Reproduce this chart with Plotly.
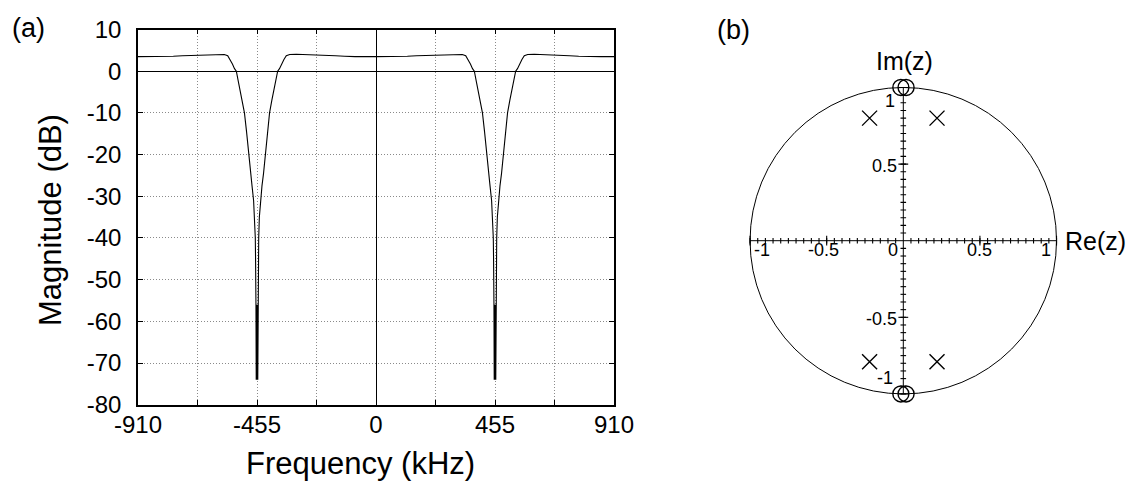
import plotly.graph_objects as go

# ---------------- data: panel (a) magnitude response ----------------
freq_khz = [
    -910, -860, -810, -775, -740, -700, -665, -640, -605, -580, -567, -558, -549, -541,
    -534, -525, -517, -512, -503, -495, -487, -480, -474, -468, -464, -461.5, -460.5,
    -459.5, -459, -458, -456.5, -455, -453.5, -452, -451, -450.5, -449.5, -448.5, -446,
    -442, -436, -430, -423, -415, -407, -398, -393, -385, -376, -369, -361, -352, -343,
    -330, -305, -265, -230, -195, -155, -120, -80, 0,
    80, 120, 155, 195, 230, 265, 305, 330, 343, 352, 361, 369, 376, 385, 393, 398, 407,
    415, 423, 430, 436, 442, 446, 448.5, 449.5, 450.5, 451, 452, 453.5, 455, 456.5,
    458, 459, 459.5, 460.5, 461.5, 464, 468, 474, 480, 487, 495, 503, 512, 517, 525, 534,
    541, 549, 558, 567, 580, 605, 640, 665, 700, 740, 775, 810, 860, 910,
]
mag_db = [
    3.5, 3.5, 3.5, 3.6, 3.7, 3.8, 3.9, 4.0, 4.05, 4.0, 3.7, 2.8, 1.7, 0.6,
    0.0, -2.9, -5.3, -6.9, -10.0, -14.5, -20.0, -24.5, -27.5, -31.0, -35.0, -40.0, -45.0,
    -50.0, -56.0, -74.0, -56.0, -74.0, -56.0, -74.0, -56.0, -50.0, -45.0, -40.0, -35.0,
    -31.0, -27.5, -24.5, -20.0, -14.5, -10.0, -6.9, -5.3, -2.9, 0.0, 0.6, 1.7, 2.8, 3.7,
    4.0, 4.05, 4.0, 3.9, 3.8, 3.7, 3.6, 3.5, 3.5,
    3.5, 3.6, 3.7, 3.8, 3.9, 4.0, 4.05, 4.0, 3.7, 2.8, 1.7, 0.6, 0.0, -2.9, -5.3, -6.9, -10.0,
    -14.5, -20.0, -24.5, -27.5, -31.0, -35.0, -40.0, -45.0, -50.0, -56.0, -74.0, -56.0, -74.0, -56.0,
    -74.0, -56.0, -50.0, -45.0, -40.0, -35.0, -31.0, -27.5, -24.5, -20.0, -14.5, -10.0, -6.9, -5.3, -2.9, 0.0,
    0.6, 1.7, 2.8, 3.7, 4.0, 4.05, 4.0, 3.9, 3.8, 3.7, 3.6, 3.5, 3.5, 3.5,
]
x_tick_vals = [-910, -682.5, -455, -227.5, 0, 227.5, 455, 682.5, 910]
x_tick_text = ["-910", "", "-455", "", "0", "", "455", "", "910"]
y_tick_vals = [10, 0, -10, -20, -30, -40, -50, -60, -70, -80]
y_tick_text = ["10", "0", "-10", "-20", "-30", "-40", "-50", "-60", "-70", "-80"]

# ---------------- data: panel (b) pole-zero plot ----------------
zero_re = [-0.016, 0.018, -0.016, 0.018]
zero_im = [1.0, 1.0, -1.0, -1.0]
pole_re = [-0.22, 0.22, -0.22, 0.22]
pole_im = [0.80, 0.80, -0.79, -0.79]
re_labels = ["-1", "-0.5", "0", "0.5", "1"]
im_labels = ["1", "0.5", "-0.5", "-1"]

FONT = "Liberation Sans, Arial, sans-serif"
W, H = 1130, 485
fig = go.Figure()

# panel (a)
fig.add_trace(go.Scatter(x=freq_khz, y=mag_db, mode="lines",
                         line=dict(color="black", width=1.1),
                         xaxis="x", yaxis="y", showlegend=False, hoverinfo="skip"))

# panel (b): axes lines
fig.add_trace(go.Scatter(x=[-1, 1], y=[0, 0], mode="lines", line=dict(color="black", width=1),
                         xaxis="x2", yaxis="y2", showlegend=False, hoverinfo="skip"))
fig.add_trace(go.Scatter(x=[0, 0], y=[-1, 1], mode="lines", line=dict(color="black", width=1),
                         xaxis="x2", yaxis="y2", showlegend=False, hoverinfo="skip"))
# minor ticks every 0.05
minor = [round(-1 + 0.05 * i, 2) for i in range(41) if i != 20]
fig.add_trace(go.Scatter(x=minor, y=[0] * len(minor), mode="markers",
                         marker=dict(symbol="line-ns", size=4, line=dict(color="black", width=1.1)),
                         xaxis="x2", yaxis="y2", showlegend=False, hoverinfo="skip"))
fig.add_trace(go.Scatter(x=[0] * len(minor), y=minor, mode="markers",
                         marker=dict(symbol="line-ew", size=4, line=dict(color="black", width=1.1)),
                         xaxis="x2", yaxis="y2", showlegend=False, hoverinfo="skip"))
major = [-1, -0.5, 0.5, 1]
fig.add_trace(go.Scatter(x=major, y=[0] * 4, mode="markers",
                         marker=dict(symbol="line-ns", size=7, line=dict(color="black", width=1.1)),
                         xaxis="x2", yaxis="y2", showlegend=False, hoverinfo="skip"))
fig.add_trace(go.Scatter(x=[0] * 4, y=major, mode="markers",
                         marker=dict(symbol="line-ew", size=7, line=dict(color="black", width=1.1)),
                         xaxis="x2", yaxis="y2", showlegend=False, hoverinfo="skip"))
# zeros and poles
fig.add_trace(go.Scatter(x=zero_re, y=zero_im, mode="markers",
                         marker=dict(symbol="circle-open", size=16, color="black",
                                     line=dict(color="black", width=1.4)),
                         xaxis="x2", yaxis="y2", showlegend=False, hoverinfo="skip"))
fig.add_trace(go.Scatter(x=pole_re, y=pole_im, mode="markers",
                         marker=dict(symbol="x-thin-open", size=15, color="black",
                                     line=dict(color="black", width=1.4)),
                         xaxis="x2", yaxis="y2", showlegend=False, hoverinfo="skip"))

# unit circle
fig.add_shape(type="circle", xref="x2", yref="y2", x0=-1, y0=-1, x1=1, y1=1,
              line=dict(color="black", width=1), layer="below")

ann_font = lambda s: dict(size=s, family=FONT, color="black")
# tick labels of the z-plane (positions in data units)
re_pos = [-0.924, -0.52, -0.064, 0.50, 0.933]
for t, xp in zip(re_labels, re_pos):
    fig.add_annotation(x=xp, y=-0.06, xref="x2", yref="y2", text=t, showarrow=False,
                       xanchor="center", yanchor="middle", font=ann_font(18))
im_pos = [(-0.087, 0.913), (-0.12, 0.49), (-0.142, -0.51), (-0.12, -0.895)]
for t, (xp, yp) in zip(im_labels, im_pos):
    fig.add_annotation(x=xp, y=yp, xref="x2", yref="y2", text=t, showarrow=False,
                       xanchor="center", yanchor="middle", font=ann_font(18))
fig.add_annotation(x=0.01, y=1.17, xref="x2", yref="y2", text="Im(z)", showarrow=False,
                   xanchor="center", yanchor="middle", font=ann_font(25))
fig.add_annotation(x=1.04, y=0.0, xref="x2", yref="y2", text="Re(z)", showarrow=False,
                   xanchor="left", yanchor="middle", font=ann_font(25))

# panel labels and axis titles (pixel positions converted to paper fractions)
fig.add_annotation(x=28 / W, y=1 - 28 / H, xref="paper", yref="paper", text="(a)",
                   showarrow=False, xanchor="center", yanchor="middle", font=ann_font(27))
fig.add_annotation(x=733 / W, y=1 - 30 / H, xref="paper", yref="paper", text="(b)",
                   showarrow=False, xanchor="center", yanchor="middle", font=ann_font(27))
fig.add_annotation(x=361 / W, y=1 - 463 / H, xref="paper", yref="paper", text="Frequency (kHz)",
                   showarrow=False, xanchor="center", yanchor="middle", font=ann_font(31))
fig.add_annotation(x=51 / W, y=1 - 220 / H, xref="paper", yref="paper", text="Magnitude (dB)",
                   textangle=-90, showarrow=False, xanchor="center", yanchor="middle",
                   font=ann_font(31))

axis_common = dict(
    tickmode="array", ticks="inside", ticklen=5, tickwidth=1, tickcolor="black",
    showline=True, linecolor="black", linewidth=1.5, mirror="ticks",
    showgrid=True, gridcolor="#8a8a8a", griddash="1px,2px", gridwidth=1,
    zeroline=True, zerolinecolor="black", zerolinewidth=1,
    tickfont=dict(size=24, family=FONT, color="black"), automargin=False,
)
fig.update_layout(
    template="none",
    width=W, height=H,
    margin=dict(l=0, r=0, t=0, b=0),
    paper_bgcolor="white", plot_bgcolor="white",
    font=dict(family=FONT, color="black"),
    xaxis=dict(domain=[138 / W, 614 / W], range=[-910, 910],
               tickvals=x_tick_vals, ticktext=x_tick_text, ticklabelstandoff=-2,
               anchor="y", **axis_common),
    yaxis=dict(domain=[1 - 404.7 / H, 1 - 29.5 / H], range=[-80, 10],
               tickvals=y_tick_vals, ticktext=y_tick_text, ticklabelstandoff=10,
               anchor="x", **axis_common),
    xaxis2=dict(domain=[704.1 / W, 1102.5 / W], range=[-1.3, 1.3], visible=False,
                anchor="y2"),
    yaxis2=dict(domain=[1 - 439.9 / H, 1 - 41.5 / H], range=[-1.3, 1.3], visible=False,
                anchor="x2"),
)

fig.write_html("out.html", config={"displayModeBar": False},
               post_script="document.body.style.margin='0px';document.body.style.overflow='hidden';")
